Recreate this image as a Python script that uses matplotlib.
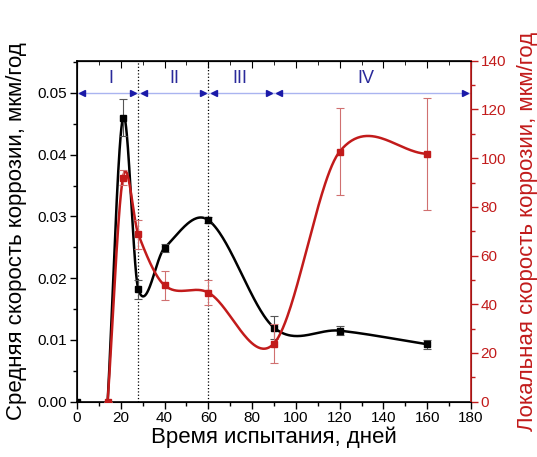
import numpy as np
import matplotlib.pyplot as plt
from matplotlib.ticker import MultipleLocator, FormatStrFormatter

plt.rcParams['font.family'] = ['Liberation Sans', 'DejaVu Sans']

# средняя скорость коррозии (левая ось)
avg_days = [14, 21, 28, 40, 60, 90, 120, 160]
avg_rate = [0.0, 0.046, 0.0182, 0.0249, 0.0294, 0.0120, 0.0115, 0.0093]
avg_err = [0.0, 0.003, 0.0015, 0.0007, 0.0005, 0.0018, 0.0007, 0.0007]

# локальная скорость коррозии (правая ось)
loc_days = [14, 21, 28, 40, 60, 90, 120, 160]
loc_rate = [0.0, 92.0, 68.7, 47.8, 44.8, 23.9, 102.7, 101.8]
loc_err = [0.0, 3.0, 6.0, 6.0, 5.0, 8.0, 18.0, 23.0]

origin_day = [0]
origin_val = [0.0]

stage_names = ['I', 'II', 'III', 'IV']
stage_bounds = [0, 28, 60, 90, 180]
stage_lines = [28, 60]

RED = '#c21b1b'
BLUE_TXT = '#2a2a9a'


def smooth_line(x, y, num=60):
    # кубическая эрмитова кривая (касательные по соседним точкам), только для гладкой линии
    x = np.asarray(x, float)
    y = np.asarray(y, float)
    n = len(x)
    m = np.zeros(n)
    m[1:-1] = (y[2:] - y[:-2]) / (x[2:] - x[:-2])
    m[0] = (y[1] - y[0]) / (x[1] - x[0])
    m[-1] = (y[-1] - y[-2]) / (x[-1] - x[-2])
    xs_all, ys_all = [], []
    for i in range(n - 1):
        h = x[i + 1] - x[i]
        t = np.linspace(0, 1, num)
        h00 = 2 * t**3 - 3 * t**2 + 1
        h10 = t**3 - 2 * t**2 + t
        h01 = -2 * t**3 + 3 * t**2
        h11 = t**3 - t**2
        xs_all.append(x[i] + t * h)
        ys_all.append(h00 * y[i] + h10 * h * m[i] + h01 * y[i + 1] + h11 * h * m[i + 1])
    return np.concatenate(xs_all), np.concatenate(ys_all)


fig = plt.figure(figsize=(5.37, 4.57), dpi=100)
ax = fig.add_axes([0.1434, 0.121, 0.7336, 0.746])
ax2 = ax.twinx()

# черная кривая
xs, ys = smooth_line(avg_days, avg_rate)
ax.plot(xs, ys, color='black', lw=1.8, zorder=3)
ax.errorbar(avg_days[1:], avg_rate[1:], yerr=avg_err[1:], fmt='s', color='black',
            ms=5, ecolor='#555555', elinewidth=0.8, capsize=3, capthick=0.8, zorder=4)
ax.plot(origin_day, origin_val, 's', color='black', ms=5, zorder=4)

# красная кривая
xs, ys = smooth_line(loc_days, loc_rate)
ax2.plot(xs, ys, color=RED, lw=1.8, zorder=3)
ax2.errorbar(loc_days, loc_rate, yerr=loc_err, fmt='s', color=RED, ms=5,
             ecolor='#d07070', elinewidth=0.8, capsize=3, capthick=0.8, zorder=4)

# границы стадий
for xv in stage_lines:
    ax.axvline(xv, color='black', ls=':', lw=0.9, zorder=2)

y_arr = 0.05
ax.plot([stage_bounds[0], stage_bounds[-1]], [y_arr, y_arr], color='#aab4f0', lw=1, zorder=2)
for i, name in enumerate(stage_names):
    x0, x1 = stage_bounds[i], stage_bounds[i + 1]
    ax.plot([x0 + 2.5], [y_arr], marker='<', color='#1a1aa8', ms=5, zorder=5, clip_on=False)
    ax.plot([x1 - 2.5], [y_arr], marker='>', color='#1a1aa8', ms=5, zorder=5, clip_on=False)
text_x = [15.4, 44.3, 74.4, 132]
for tx, name in zip(text_x, stage_names):
    ax.text(tx, 0.0524, name, color=BLUE_TXT, fontsize=13, ha='center', va='center')

ax.set_xlim(0, 180)
ax.set_ylim(0, 0.0552)
ax2.set_ylim(0, 140)

ax.xaxis.set_major_locator(MultipleLocator(20))
ax.xaxis.set_minor_locator(MultipleLocator(10))
ax.yaxis.set_major_locator(MultipleLocator(0.01))
ax.yaxis.set_minor_locator(MultipleLocator(0.005))
ax.yaxis.set_major_formatter(FormatStrFormatter('%.2f'))
ax2.yaxis.set_major_locator(MultipleLocator(20))
ax2.yaxis.set_minor_locator(MultipleLocator(10))

ax.tick_params(axis='both', which='major', labelsize=11, length=5, width=1, pad=2)
ax.tick_params(axis='both', which='minor', length=3, width=1)
ax2.tick_params(axis='y', which='major', labelsize=11, length=5, width=1,
                colors=RED, pad=2)
ax2.tick_params(axis='y', which='minor', length=3, width=1, colors=RED)

# верхние засечки внутрь
top = ax.secondary_xaxis('top')
top.xaxis.set_major_locator(MultipleLocator(20))
top.xaxis.set_minor_locator(MultipleLocator(10))
top.tick_params(which='both', direction='in', labeltop=False)
top.tick_params(which='major', length=5)
top.tick_params(which='minor', length=3)

ax2.spines['right'].set_color(RED)
ax2.spines['right'].set_linewidth(1.2)
for s in ['left', 'bottom', 'top']:
    ax.spines[s].set_linewidth(1.2)

ax.set_xlabel('Время испытания, дней', fontsize=16, labelpad=1)
ax.set_ylabel('Средняя скорость коррозии, мкм/год', fontsize=16, labelpad=8)
ax2.set_ylabel('Локальная скорость коррозии, мкм/год', fontsize=16, color=RED, labelpad=8)

fig.savefig('out.png', dpi=100)
